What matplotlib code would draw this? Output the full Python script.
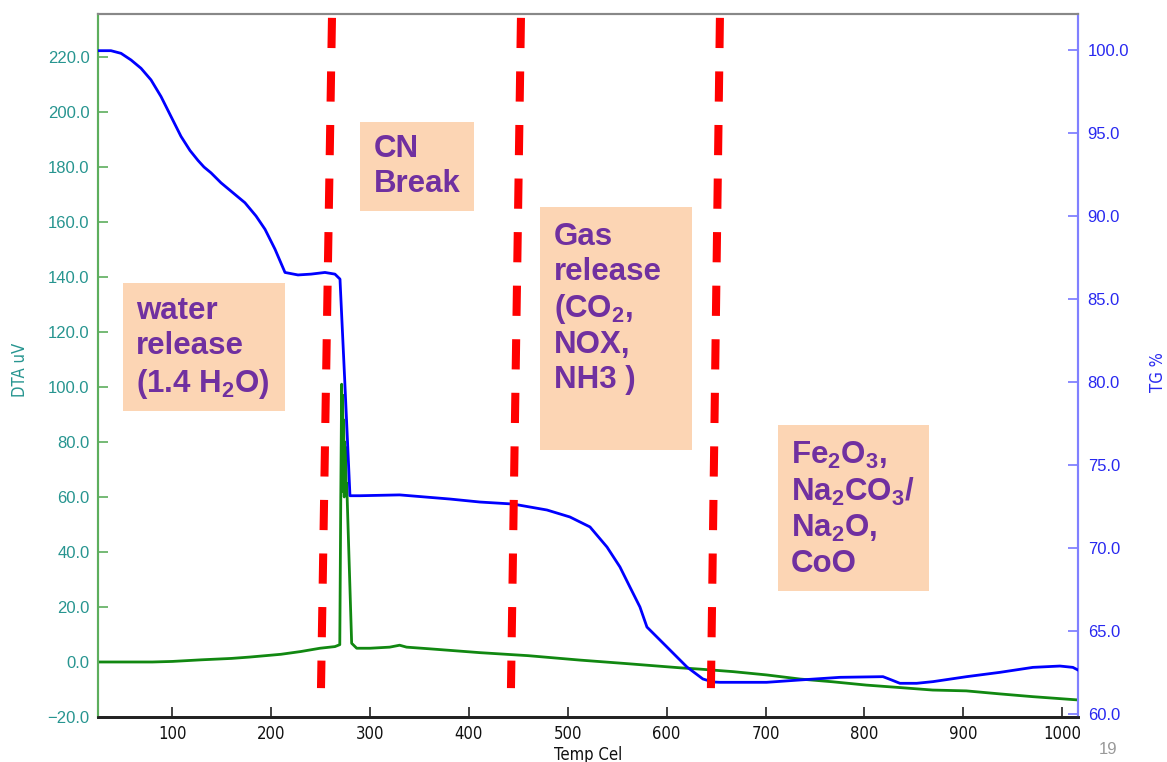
import matplotlib
matplotlib.use('Agg')
import matplotlib.pyplot as plt
from matplotlib import font_manager as fm
from matplotlib.patches import Rectangle

# ---------------- data ----------------
temp_tg = [25, 38.1, 48.3, 58.4, 68.5, 78.6, 88.7, 98.8, 108.9, 118.0, 126.1, 132.2,
           139.3, 149.4, 163.5, 173.6, 184.8, 193.9, 204.0, 214.1, 227.2, 240.4, 254.5,
           264.6, 269.7, 274.5, 279.8, 290, 330, 381, 411.2, 444.6, 479.0, 502.2, 522.5,
           539.7, 552.8, 562.9, 573.0, 580.1, 590.2, 600.3, 620.6, 636.7, 646.8, 653.9,
           701.1, 734.8, 775.3, 818.8, 827.5, 835.9, 852.8, 869.3, 903.4, 937.0, 970.4,
           997.7, 1010.8, 1016]
tg = [99.96, 99.96, 99.8, 99.4, 98.9, 98.2, 97.2, 96.0, 94.8, 93.95, 93.35, 92.95,
      92.6, 92.0, 91.3, 90.8, 90.0, 89.2, 88.0, 86.6, 86.45, 86.5, 86.6,
      86.5, 86.2, 80.1, 73.15, 73.15, 73.2, 72.95, 72.77, 72.65, 72.29, 71.87, 71.27,
      70.06, 68.86, 67.65, 66.45, 65.24, 64.64, 64.04, 62.83, 62.11, 61.93, 61.91,
      61.91, 62.05, 62.21, 62.25, 62.05, 61.85, 61.85, 61.95, 62.25, 62.51, 62.81,
      62.89, 62.81, 62.65]

temp_dta = [25, 80, 100, 130, 160, 178.7, 210, 230, 249.5, 264.6, 269.5, 270.5,
            271.4, 272.0, 272.5, 273.0, 273.5, 274.0, 274.5, 275.0, 275.5, 276.0, 276.5,
            281.5, 286.6, 300, 320, 330, 337, 360, 411, 460, 512, 560, 613, 634, 667,
            701, 735, 768, 802, 836, 869, 903, 937, 970, 1016]
dta = [0.0, 0.0, 0.2, 0.8, 1.3, 1.8, 2.8, 3.8, 5.0, 5.6, 6.3, 60,
       101, 75, 97, 62, 88, 60, 80, 63, 78, 62, 65,
       6.8, 5.0, 5.0, 5.4, 6.1, 5.4, 4.8, 3.4, 2.3, 0.7, -0.6, -2.1, -2.6, -3.5,
       -4.7, -6.2, -7.2, -8.4, -9.3, -10.2, -10.5, -11.6, -12.6, -13.8]

boundary_top_temp = [261.6, 452.7, 653.9]
boundary_bottom_temp = [250.5, 442.6, 644.8]
boundary_dta = [234.2, -9.5]

x_ticks = [100, 200, 300, 400, 500, 600, 700, 800, 900, 1000]
dta_ticks = [-20, 0, 20, 40, 60, 80, 100, 120, 140, 160, 180, 200, 220]
tg_ticks = [60, 65, 70, 75, 80, 85, 90, 95, 100]

box_texts = [
    "water\nrelease\n(1.4 H$_2$O)",
    "CN\nBreak",
    "Gas\nrelease\n(CO$_2$,\nNOX,\nNH3 )",
    "Fe$_2$O$_3$,\nNa$_2$CO$_3$/\nNa$_2$O,\nCoO",
]

x_label = "Temp Cel"
dta_label = "DTA uV"
tg_label = "TG %"
page_number = "19"

# ---------------- style ----------------
W, H = 1167, 762
plt.rcParams['mathtext.fontset'] = 'custom'
plt.rcParams['mathtext.rm'] = 'Liberation Sans:bold'
plt.rcParams['mathtext.it'] = 'Liberation Sans:bold'
plt.rcParams['mathtext.bf'] = 'Liberation Sans:bold'
plt.rcParams['mathtext.default'] = 'rm'

names = {f.name for f in fm.fontManager.ttflist}
narrow = 'Liberation Sans Narrow' if 'Liberation Sans Narrow' in names else 'DejaVu Sans'
narrow_kw = dict(family=narrow)
if narrow == 'DejaVu Sans':
    narrow_kw['stretch'] = 'condensed'

teal = '#279590'
blue_txt = '#2828F0'
purple = '#7030A0'
peach = '#FCD5B4'

fig = plt.figure(figsize=(W / 100, H / 100), dpi=100)
ax = fig.add_axes([98 / W, 1 - 717 / H, (1078 - 98) / W, (717 - 14) / H])
ax2 = ax.twinx()

ax.set_xlim(25, 1016)
ax.set_ylim(-20, 235.6)
ax2.set_ylim(59.82, 102.17)

ax.plot(temp_dta, dta, color='#118811', lw=2.0, zorder=3)
ax2.plot(temp_tg, tg, color='#0000FF', lw=2.0, zorder=3)

for t0, t1 in zip(boundary_top_temp, boundary_bottom_temp):
    ax2.plot([t0, t1], boundary_dta, transform=ax.transData, color='#FF0000',
             lw=5.8, dashes=(3.75, 2.9), solid_capstyle='butt', zorder=5)


def fmt(v):
    return f"{v:.1f}".replace('-', '\u2212')


# ticks
ax.set_xticks(x_ticks)
ax.set_xticklabels([str(v) for v in x_ticks], **narrow_kw, fontsize=12, color='#111111')
ax.set_yticks(dta_ticks)
ax.set_yticklabels([fmt(v) for v in dta_ticks], family='Liberation Sans',
                   fontsize=12, color=teal)
ax2.set_yticks(tg_ticks)
ax2.set_yticklabels([fmt(v) for v in tg_ticks], family='Liberation Sans',
                    fontsize=12, color=blue_txt)

ax.tick_params(axis='x', direction='in', length=7, width=1.2, color='#222222', pad=6)
ax.tick_params(axis='y', direction='in', length=7, width=1.2, color='#5DAE5D', pad=6)
ax2.tick_params(axis='y', direction='in', length=7, width=1.2, color='#7777FF', pad=7)

for a in (ax, ax2):
    a.spines['left'].set_color('#5DAE5D')
    a.spines['left'].set_linewidth(1.5)
    a.spines['right'].set_color('#8080FF')
    a.spines['right'].set_linewidth(1.5)
    a.spines['bottom'].set_color('#222222')
    a.spines['bottom'].set_linewidth(2.0)
    a.spines['top'].set_color('#888888')
    a.spines['top'].set_linewidth(1.5)

ax.set_xlabel(x_label, **narrow_kw, fontsize=12, color='#111111', labelpad=2)
fig.text(20 / W, 1 - 370 / H, dta_label, rotation=90, ha='center', va='center',
         color=teal, fontsize=12, **narrow_kw)
fig.text(1158 / W, 1 - 372 / H, tg_label, rotation=90, ha='center', va='center',
         color=blue_txt, fontsize=12, **narrow_kw)
fig.text(1108 / W, 1 - 750 / H, page_number, ha='center', va='center',
         color='#999999', fontsize=12, family='Liberation Sans')

# annotation boxes (figure pixel layout)
boxes = [(123, 283, 285, 411), (360, 122, 474, 211), (540, 207, 692, 450), (778, 425, 929, 591)]
text_pos = [(136, 296, 1.22), (374, 134, 1.22), (554, 222, 1.2), (791, 440, 1.2)]
for (x0, y0, x1, y1), (tx, ty, ls), s in zip(boxes, text_pos, box_texts):
    fig.patches.append(Rectangle((x0 / W, 1 - y1 / H), (x1 - x0) / W, (y1 - y0) / H,
                                 transform=fig.transFigure, facecolor=peach,
                                 edgecolor='none', zorder=6))
    fig.text(tx / W, 1 - ty / H, s, ha='left', va='top', color=purple,
             family='Liberation Sans', fontweight='bold', fontsize=22.5,
             linespacing=ls, zorder=7)

fig.savefig('out.png', dpi=100)
